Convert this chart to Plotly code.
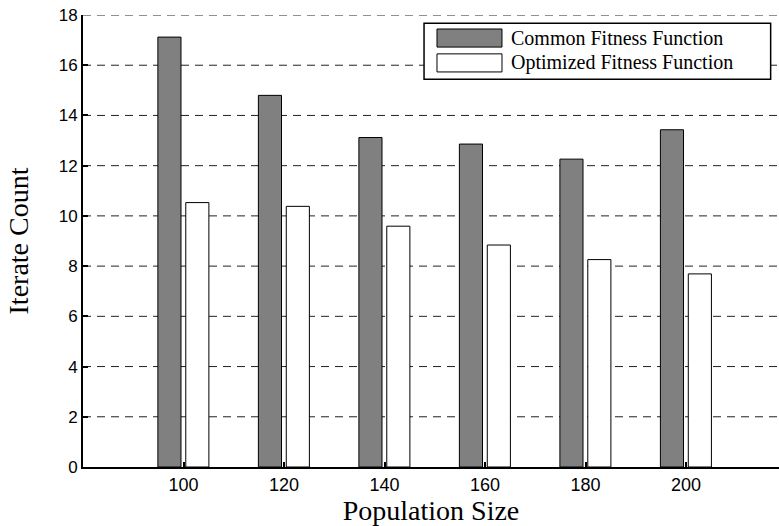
import plotly.graph_objects as go

population = [100, 120, 140, 160, 180, 200]
common = [17.12, 14.8, 13.12, 12.86, 12.26, 13.43]
optimized = [10.53, 10.38, 9.59, 8.84, 8.26, 7.69]
y_ticks = [0, 2, 4, 6, 8, 10, 12, 14, 16, 18]
series_names = ["Common Fitness Function", "Optimized Fitness Function"]
series_colors = ["#808080", "white"]

fig = go.Figure()
fig.add_trace(go.Bar(
    x=population, y=common, name=series_names[0],
    width=4.6, offset=-5.1, showlegend=False,
    marker=dict(color=series_colors[0], line=dict(color="black", width=1)),
))
fig.add_trace(go.Bar(
    x=population, y=optimized, name=series_names[1],
    width=4.6, offset=0.45, showlegend=False,
    marker=dict(color=series_colors[1], line=dict(color="black", width=1)),
))

for v in y_ticks[1:]:
    fig.add_shape(type="line", xref="paper", yref="y", x0=0, x1=1, y0=v, y1=v,
                  line=dict(color="#222", width=1, dash="8px,6px"), layer="below")

# legend box (drawn manually to match the wide swatches)
fig.add_shape(type="rect", xref="paper", yref="paper", x0=0.490, x1=0.988, y0=0.858, y1=0.982,
              line=dict(color="black", width=1.5), fillcolor="white", layer="above")
sw_y = [(0.929, 0.969), (0.874, 0.914)]
txt_y = [0.949, 0.894]
for i in range(2):
    fig.add_shape(type="rect", xref="paper", yref="paper", x0=0.5086, x1=0.602,
                  y0=sw_y[i][0], y1=sw_y[i][1],
                  line=dict(color="black", width=1), fillcolor=series_colors[i], layer="above")
    fig.add_annotation(xref="paper", yref="paper", x=0.612, y=txt_y[i], text=series_names[i],
                       showarrow=False, xanchor="left", yanchor="middle",
                       font=dict(family="Liberation Serif", size=20, color="black"))

fig.update_layout(
    width=779, height=526,
    margin=dict(l=83, r=0, t=15, b=59),
    paper_bgcolor="white", plot_bgcolor="white",
    barmode="overlay",
    showlegend=False,
    xaxis=dict(
        range=[80, 218.5], tickvals=population, ticktext=[str(p) for p in population],
        showgrid=False, zeroline=False,
        showline=True, linecolor="black", linewidth=2,
        ticks="inside", ticklen=5, tickwidth=2, tickcolor="black",
        tickfont=dict(family="Liberation Sans", size=18, color="black"),
        title=dict(text="Population Size", standoff=5,
                   font=dict(family="Liberation Serif", size=28, color="black")),
    ),
    yaxis=dict(
        range=[0, 18], tickvals=y_ticks,
        showgrid=False, zeroline=False,
        showline=True, linecolor="black", linewidth=2,
        ticks="inside", ticklen=5, tickwidth=2, tickcolor="black",
        tickfont=dict(family="Liberation Sans", size=17, color="black"),
        title=dict(text="Iterate Count", standoff=22,
                   font=dict(family="Liberation Serif", size=28, color="black")),
    ),
)

fig.write_html("out.html", config={"displayModeBar": False},
               post_script="document.body.style.margin='0';document.body.style.overflow='hidden';")
